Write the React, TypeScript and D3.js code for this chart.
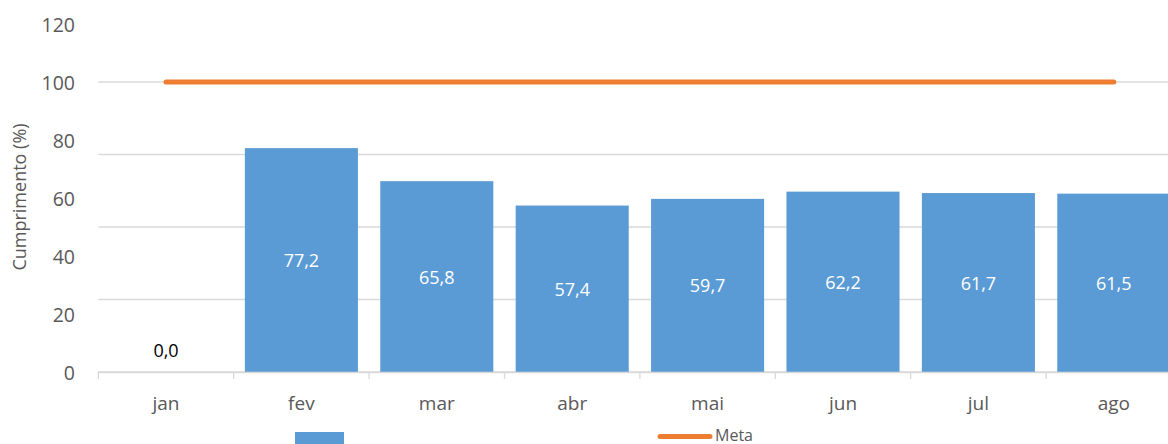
import React, { useRef, useEffect } from 'react';
import * as d3 from 'd3';

const months = ['jan', 'fev', 'mar', 'abr', 'mai', 'jun', 'jul', 'ago'];
const cumprimento = [0.0, 77.2, 65.8, 57.4, 59.7, 62.2, 61.7, 61.5];
const meta = [100, 100, 100, 100, 100, 100, 100, 100];
const yTicks = [0, 20, 40, 60, 80, 100, 120];
const gridValues = [0, 25, 50, 75, 100];

const App: React.FC = () => {
  const svgRef = useRef<SVGSVGElement | null>(null);

  useEffect(() => {
    if (!svgRef.current) return;
    document.body.style.margin = '0';

    d3.select(svgRef.current).selectAll('*').remove();

    const width = 1168;
    const height = 444;
    const font = '"Open Sans", "Noto Sans", sans-serif';

    const svg = d3
      .select(svgRef.current)
      .attr('width', width)
      .attr('height', height)
      .style('display', 'block');

    // plot area runs past the right edge, as in the source picture
    const left = 98.3;
    const right = left + 8 * 135.4;

    const x = d3.scaleBand().domain(months).range([left, right]).paddingInner(0.165).paddingOuter(0.0825);
    const xBand = d3.scaleBand().domain(months).range([left, right]);
    const y = d3.scaleLinear().domain([0, 120]).range([372, 24]);

    // gridlines
    svg
      .selectAll('line.grid')
      .data(gridValues)
      .join('line')
      .attr('class', 'grid')
      .attr('x1', left)
      .attr('x2', right)
      .attr('y1', (d) => y(d))
      .attr('y2', (d) => y(d))
      .attr('stroke', '#d9d9d9')
      .attr('stroke-width', 1.3);

    // bars
    svg
      .selectAll('rect.bar')
      .data(cumprimento)
      .join('rect')
      .attr('class', 'bar')
      .attr('x', (_, i) => x(months[i]) as number)
      .attr('width', x.bandwidth())
      .attr('y', (d) => y(d))
      .attr('height', (d) => y(0) - y(d))
      .attr('fill', '#5b9bd5');

    // x axis line and ticks
    svg
      .append('line')
      .attr('x1', left)
      .attr('x2', right)
      .attr('y1', y(0) + 0.5)
      .attr('y2', y(0) + 0.5)
      .attr('stroke', '#d9d9d9')
      .attr('stroke-width', 1.3);

    svg
      .selectAll('line.xtick')
      .data(d3.range(months.length + 1))
      .join('line')
      .attr('class', 'xtick')
      .attr('x1', (i) => left + i * xBand.bandwidth())
      .attr('x2', (i) => left + i * xBand.bandwidth())
      .attr('y1', y(0))
      .attr('y2', y(0) + 7)
      .attr('stroke', '#d9d9d9')
      .attr('stroke-width', 1.3);

    // meta line
    const line = d3
      .line<number>()
      .x((_, i) => (xBand(months[i]) as number) + xBand.bandwidth() / 2)
      .y((d) => y(d));

    svg
      .append('path')
      .datum(meta)
      .attr('d', line)
      .attr('fill', 'none')
      .attr('stroke', '#ed7d31')
      .attr('stroke-width', 5)
      .attr('stroke-linecap', 'round');

    // data labels
    svg
      .selectAll('text.label')
      .data(cumprimento)
      .join('text')
      .attr('class', 'label')
      .attr('x', (_, i) => (x(months[i]) as number) + x.bandwidth() / 2)
      .attr('y', (d) => (d > 0 ? (y(d) + y(0)) / 2 : y(0) - 22))
      .attr('text-anchor', 'middle')
      .attr('dominant-baseline', 'central')
      .attr('font-family', font)
      .attr('font-size', 18)
      .attr('fill', (d) => (d > 0 ? '#ffffff' : '#000000'))
      .text((d) => d.toFixed(1).replace('.', ','));

    // y tick labels
    svg
      .selectAll('text.ytick')
      .data(yTicks)
      .join('text')
      .attr('class', 'ytick')
      .attr('x', 75)
      .attr('y', (d) => y(d))
      .attr('text-anchor', 'end')
      .attr('dominant-baseline', 'central')
      .attr('font-family', font)
      .attr('font-size', 19.5)
      .attr('fill', '#595959')
      .text((d) => d);

    // x tick labels
    svg
      .selectAll('text.xlabel')
      .data(months)
      .join('text')
      .attr('class', 'xlabel')
      .attr('x', (d) => (xBand(d) as number) + xBand.bandwidth() / 2)
      .attr('y', 403)
      .attr('text-anchor', 'middle')
      .attr('dominant-baseline', 'central')
      .attr('font-family', font)
      .attr('font-size', 19)
      .attr('fill', '#595959')
      .text((d) => d);

    // y axis title
    svg
      .append('text')
      .attr('transform', 'translate(19,197) rotate(-90)')
      .attr('text-anchor', 'middle')
      .attr('dominant-baseline', 'central')
      .attr('font-family', font)
      .attr('font-size', 18)
      .attr('fill', '#595959')
      .text('Cumprimento (%)');

    // legend
    svg
      .append('rect')
      .attr('x', 295)
      .attr('y', 432)
      .attr('width', 49)
      .attr('height', 14)
      .attr('fill', '#5b9bd5');

    svg
      .append('line')
      .attr('x1', 660)
      .attr('x2', 710)
      .attr('y1', 436.5)
      .attr('y2', 436.5)
      .attr('stroke', '#ed7d31')
      .attr('stroke-width', 5)
      .attr('stroke-linecap', 'round');

    svg
      .append('text')
      .attr('x', 715)
      .attr('y', 435)
      .attr('dominant-baseline', 'central')
      .attr('font-family', font)
      .attr('font-size', 16)
      .attr('fill', '#595959')
      .text('Meta');
  }, []);

  return <svg ref={svgRef}></svg>;
};

export default App;
